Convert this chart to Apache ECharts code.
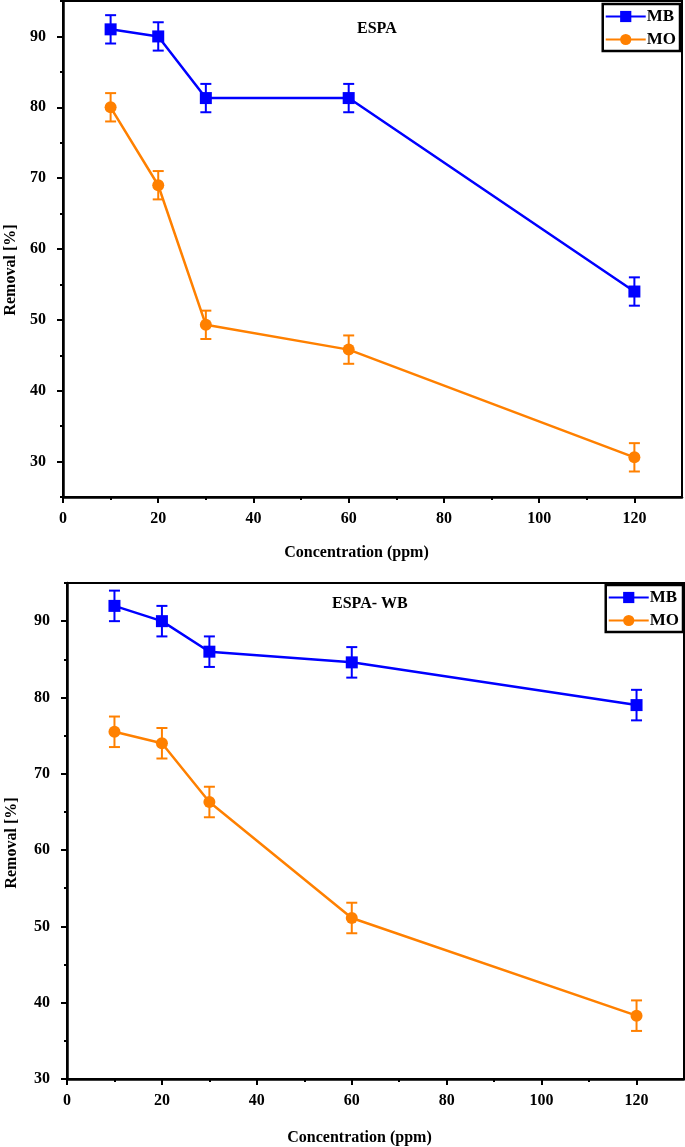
<!DOCTYPE html>
<html>
<head>
<meta charset="utf-8">
<script src="https://cdn.jsdelivr.net/npm/echarts@6/dist/echarts.min.js"></script>
<style>
html,body{margin:0;padding:0;background:#fff;}
#chart{width:685px;height:1147px;}
</style>
</head>
<body>
<div id="chart"></div>
<script>
// ---- data ----
const concentrations = [10, 20, 30, 60, 120];
const espaMB = [91, 90, 81.3, 81.3, 54];
const espaMO = [80, 69, 49.3, 45.8, 30.6];
const espaMBErr = [2, 2, 2, 2, 2];
const espaMOErr = [2, 2, 2, 2, 2];
const wbMB = [92, 90, 86, 84.6, 79];
const wbMO = [75.5, 74, 66.3, 51.1, 38.3];
const wbMBErr = [2, 2, 2, 2, 2];
const wbMOErr = [2, 2, 2, 2, 2];
const xMajorTicks = [0, 20, 40, 60, 80, 100, 120];
const xMinorTicks = [10, 30, 50, 70, 90, 110];
const yMajorTicks = [30, 40, 50, 60, 70, 80, 90];
const yMinorTicksTop = [25, 35, 45, 55, 65, 75, 85, 95];
const yMinorTicksBottom = [35, 45, 55, 65, 75, 85, 95];
const titles = ['ESPA', 'ESPA- WB'];
const seriesNames = ['MB', 'MO'];
const xName = 'Concentration (ppm)';
const yName = 'Removal [%]';

const BLUE = '#0000ff';
const ORANGE = '#ff8000';
const FONT = "'Liberation Serif', 'Times New Roman', serif";

const chart = echarts.init(document.getElementById('chart'));

function pairs(xs, ys, es) {
  return xs.map((x, i) => es ? [x, ys[i], es[i]] : [x, ys[i]]);
}

function errSeries(xi, yi, data, color) {
  return {
    type: 'custom', xAxisIndex: xi, yAxisIndex: yi, z: 1,
    data: data,
    renderItem: function (params, api) {
      const x = api.value(0), y = api.value(1), e = api.value(2);
      const t = api.coord([x, y + e]);
      const b = api.coord([x, y - e]);
      const hw = 5.5;
      const st = { stroke: color, lineWidth: 2 };
      return {
        type: 'group',
        children: [
          { type: 'line', shape: { x1: t[0], y1: t[1], x2: b[0], y2: b[1] }, style: st },
          { type: 'line', shape: { x1: t[0] - hw, y1: t[1], x2: t[0] + hw, y2: t[1] }, style: st },
          { type: 'line', shape: { x1: b[0] - hw, y1: b[1], x2: b[0] + hw, y2: b[1] }, style: st }
        ]
      };
    }
  };
}

function lineSeries(name, xi, yi, data, color, symbol, size) {
  return {
    name: name, type: 'line', xAxisIndex: xi, yAxisIndex: yi, z: 3,
    data: data, symbol: symbol, symbolSize: size,
    lineStyle: { color: color, width: 2.5 },
    itemStyle: { color: color },
    emphasis: { disabled: true },
    animation: false
  };
}

function xAxes(gi, showName, gap) {
  return [
    {
      gridIndex: gi, type: 'value', min: 0, max: 130, position: 'bottom', offset: 0,
      name: showName, nameLocation: 'middle', nameGap: gap,
      nameTextStyle: { fontFamily: FONT, fontWeight: 'bold', fontSize: 16, color: '#000', padding: [0, 32, 0, 0] },
      axisLine: { show: true, onZero: false, lineStyle: { color: '#000', width: 2.5 } },
      axisTick: { show: true, customValues: xMajorTicks, length: 6, lineStyle: { color: '#000', width: 2 } },
      axisLabel: { customValues: xMajorTicks, margin: 14, fontFamily: FONT, fontWeight: 'bold', fontSize: 16, color: '#000' },
      splitLine: { show: false }
    },
    {
      gridIndex: gi, type: 'value', min: 0, max: 130, position: 'bottom', offset: 0,
      axisLine: { show: false, onZero: false },
      axisTick: { show: true, customValues: xMinorTicks, length: 3, lineStyle: { color: '#000', width: 2 } },
      axisLabel: { show: false },
      splitLine: { show: false }
    }
  ];
}

function yAxes(gi, min, minorTicks, gap, shift) {
  return [
    {
      gridIndex: gi, type: 'value', min: min, max: 95, position: 'left', offset: 0,
      name: yName, nameLocation: 'middle', nameGap: gap,
      nameTextStyle: { fontFamily: FONT, fontWeight: 'bold', fontSize: 16, color: '#000', padding: [0, shift, 0, 0] },
      axisLine: { show: true, onZero: false, lineStyle: { color: '#000', width: 2.5 } },
      axisTick: { show: true, customValues: yMajorTicks, length: 6, lineStyle: { color: '#000', width: 2 } },
      axisLabel: { customValues: yMajorTicks, margin: 17, fontFamily: FONT, fontWeight: 'bold', fontSize: 16, color: '#000' },
      splitLine: { show: false }
    },
    {
      gridIndex: gi, type: 'value', min: min, max: 95, position: 'left', offset: 0,
      axisLine: { show: false, onZero: false },
      axisTick: { show: true, customValues: minorTicks, length: 3, lineStyle: { color: '#000', width: 2 } },
      axisLabel: { show: false },
      splitLine: { show: false }
    }
  ];
}

function legend(top, right) {
  return {
    data: seriesNames, orient: 'vertical', top: top, right: right,
    borderColor: '#000', borderWidth: 2.5, padding: [4, 4, 3, 2],
    itemWidth: 40, itemHeight: 14, itemGap: 6,
    selectedMode: false,
    textStyle: { fontFamily: FONT, fontWeight: 'bold', fontSize: 17, color: '#000', padding: [0, 0, 0, -4] }
  };
}

const option = {
  animation: false,
  backgroundColor: '#fff',
  title: [
    { text: titles[0], left: 352, top: 16, textStyle: { fontFamily: FONT, fontWeight: 'bold', fontSize: 16, color: '#000' } },
    { text: titles[1], left: 327, top: 591, textStyle: { fontFamily: FONT, fontWeight: 'bold', fontSize: 16, color: '#000' } }
  ],
  legend: [legend(4, 5), legend(585, 2)],
  grid: [
    { left: 63, top: 1, right: 3, height: 496, show: true, borderColor: '#000', borderWidth: 2, backgroundColor: 'transparent', containLabel: false, outerBoundsMode: 'none' },
    { left: 67, top: 583, right: 1, height: 496, show: true, borderColor: '#000', borderWidth: 2, backgroundColor: 'transparent', containLabel: false, outerBoundsMode: 'none' }
  ],
  xAxis: [].concat(xAxes(0, xName, 48), xAxes(1, xName, 51)),
  yAxis: [].concat(yAxes(0, 25, yMinorTicksTop, 43, 42), yAxes(1, 30, yMinorTicksBottom, 47, 24)),
  series: [
    errSeries(0, 0, pairs(concentrations, espaMB, espaMBErr), BLUE),
    errSeries(0, 0, pairs(concentrations, espaMO, espaMOErr), ORANGE),
    lineSeries(seriesNames[0], 0, 0, pairs(concentrations, espaMB), BLUE, 'rect', 12),
    lineSeries(seriesNames[1], 0, 0, pairs(concentrations, espaMO), ORANGE, 'circle', 12),
    errSeries(2, 2, pairs(concentrations, wbMB, wbMBErr), BLUE),
    errSeries(2, 2, pairs(concentrations, wbMO, wbMOErr), ORANGE),
    lineSeries(seriesNames[0], 2, 2, pairs(concentrations, wbMB), BLUE, 'rect', 12),
    lineSeries(seriesNames[1], 2, 2, pairs(concentrations, wbMO), ORANGE, 'circle', 12)
  ]
};
chart.setOption(option);
</script>
</body>
</html>
